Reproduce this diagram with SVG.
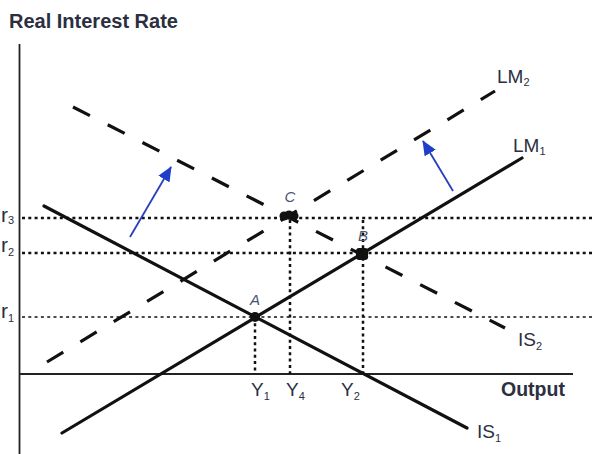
<svg xmlns="http://www.w3.org/2000/svg" width="592" height="454" viewBox="0 0 592 454">
<style>
.t{font-family:"Liberation Sans",Arial,sans-serif;fill:#2b2f3f}
.b{font-weight:bold}
.lab{font-size:19px}
.rl{font-size:21px}
.sub{font-size:11px}
.pt{font-style:italic;font-size:15px;fill:#4a5570}
.solid{stroke:#111;stroke-width:3.2;stroke-linecap:round;fill:none}
.dash{stroke:#111;stroke-width:3.2;stroke-dasharray:19 20;stroke-linecap:butt;fill:none}
.dot{stroke:#111;stroke-width:2.5;stroke-dasharray:3 3.3;fill:none}
.dot1{stroke:#111;stroke-width:1.6;stroke-dasharray:3 3.3;fill:none}
.axis{stroke:#222;stroke-width:1.8;fill:none}
.arr{stroke:#2a3fbf;stroke-width:1.8;fill:none}
</style>
<defs>
<marker id="ah" markerWidth="15" markerHeight="13" refX="14" refY="6.5" orient="auto" markerUnits="userSpaceOnUse" viewBox="0 0 15 13">
<path d="M0,0 L15,6.5 L0,13 z" fill="#1f3fc8"/>
</marker>
</defs>
<rect width="592" height="454" fill="#fff"/>
<g id="axes">
<line class="axis" x1="19.5" y1="44" x2="19.5" y2="454"/>
<line class="axis" x1="19.5" y1="374" x2="573" y2="374"/>
<text class="t b" x="9" y="28" font-size="20">Real Interest Rate</text>
<text class="t b" x="501" y="396" font-size="19.5">Output</text>
</g>
<g id="guides">
<line class="dot" x1="22" y1="218" x2="592" y2="218"/>
<line class="dot" x1="22" y1="253" x2="592" y2="253"/>
<line class="dot1" x1="22" y1="317" x2="592" y2="317"/>
<line class="dot" x1="255" y1="317" x2="255" y2="374"/>
<line class="dot" x1="290" y1="220" x2="290" y2="374"/>
<line class="dot" x1="363" y1="220" x2="363" y2="374"/>
</g>
<g id="connectors">
<line id="IS1" class="solid" x1="44" y1="206" x2="467" y2="428"/>
<line id="LM1" class="solid" x1="62" y1="433" x2="522" y2="158"/>
<line id="LM2" class="dash" x1="47" y1="362" x2="495" y2="91"/>
<line id="IS2" class="dash" x1="73" y1="107" x2="505" y2="328"/>
<line class="arr" x1="130" y1="237" x2="171" y2="167" marker-end="url(#ah)"/>
<line class="arr" x1="453" y1="191" x2="423" y2="141" marker-end="url(#ah)"/>
</g>
<g id="pointA">
<circle cx="255" cy="317" r="5" fill="#111"/>
<text class="t pt" x="255" y="305" text-anchor="middle">A</text>
</g>
<g id="pointB">
<rect x="356" y="248" width="12" height="12" rx="3" fill="#111"/>
<text class="t pt" x="363" y="241" text-anchor="middle">B</text>
</g>
<g id="pointC">
<circle cx="284" cy="216" r="4.5" fill="#111"/>
<circle cx="294" cy="216" r="4.5" fill="#111"/>
<circle cx="289" cy="215" r="4.5" fill="#111"/>
<text class="t pt" x="290" y="202" text-anchor="middle">C</text>
</g>
<g id="labels">
<text class="t rl" x="1" y="222">r<tspan class="sub" dy="2">3</tspan></text>
<text class="t rl" x="1" y="252">r<tspan class="sub" dy="4">2</tspan></text>
<text class="t rl" x="1" y="318">r<tspan class="sub" dy="4">1</tspan></text>
<text class="t lab" x="251" y="396">Y<tspan class="sub" dy="4">1</tspan></text>
<text class="t lab" x="286" y="396">Y<tspan class="sub" dy="4">4</tspan></text>
<text class="t lab" x="341" y="396">Y<tspan class="sub" dy="4">2</tspan></text>
<text class="t lab" x="477" y="438">IS<tspan class="sub" dy="4">1</tspan></text>
<text class="t lab" x="518" y="346">IS<tspan class="sub" dy="4">2</tspan></text>
<text class="t lab" x="497" y="83">LM<tspan class="sub" dy="3">2</tspan></text>
<text class="t lab" x="513" y="152">LM<tspan class="sub" dy="3">1</tspan></text>
</g>
</svg>
